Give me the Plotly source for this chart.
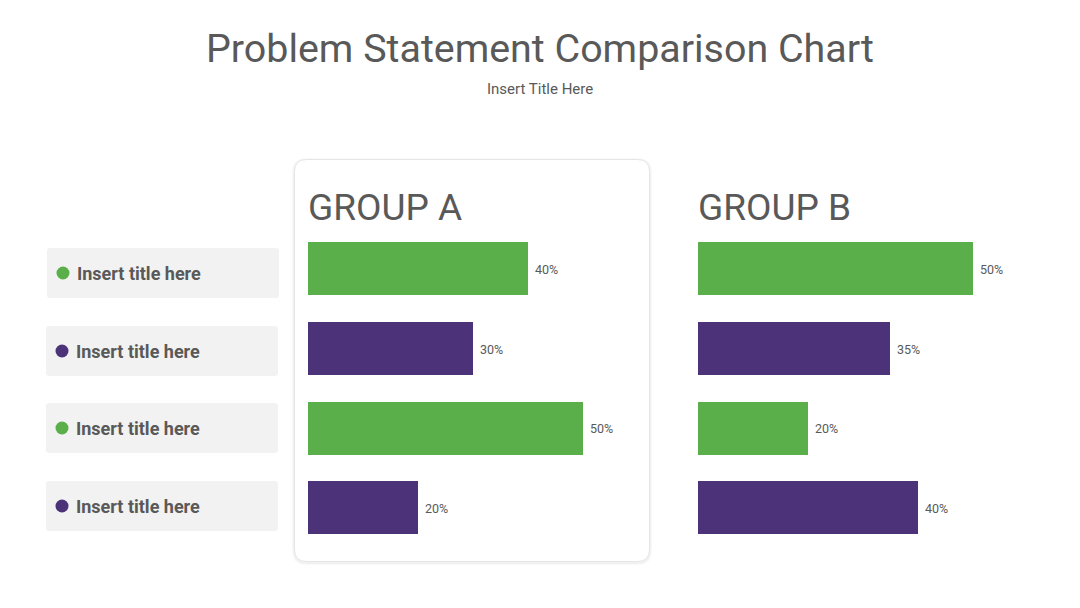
import plotly.graph_objects as go

W, H = 1080, 608

# ---- data ----
row_labels = ["Insert title here", "Insert title here", "Insert title here", "Insert title here"]
group_names = ["GROUP A", "GROUP B"]
group_a = [40, 30, 50, 20]
group_b = [50, 35, 20, 40]
row_colors = ["#5BAF4A", "#4C3279", "#5BAF4A", "#4C3279"]
title = "Problem Statement Comparison Chart"
subtitle = "Insert Title Here"

TXT = "#595959"
FONT = "Roboto"

def px(x):
    return x / W

def py(y):
    return 1 - y / H

rows = list(range(len(row_labels)))

fig = go.Figure()
for i, (vals, ax) in enumerate([(group_a, "x"), (group_b, "x2")]):
    fig.add_trace(go.Bar(
        x=vals, y=rows, orientation="h",
        marker=dict(color=row_colors, line=dict(width=0)),
        width=0.665, xaxis=ax, yaxis="y" if i == 0 else "y2",
        hoverinfo="x", showlegend=False,
    ))
    for r, v in zip(rows, vals):
        fig.add_annotation(
            x=v, y=r, xref=ax, yref="y" if i == 0 else "y2",
            text=f"{v}%", showarrow=False, xanchor="left", xshift=5, yshift=-1,
            font=dict(family=FONT, size=12.5, color=TXT),
        )

# axes
ydom = [py(547.3), py(228.7)]
xa = [px(308), px(308 + 5.49 * 60)]
xb = [px(698), px(698 + 5.49 * 60)]
axis_common = dict(showgrid=False, zeroline=False, showticklabels=False, showline=False, ticks="")
fig.update_layout(
    xaxis=dict(domain=xa, range=[0, 60], **axis_common),
    xaxis2=dict(domain=xb, range=[0, 60], anchor="y2", **axis_common),
    yaxis=dict(domain=ydom, range=[3.5, -0.5], anchor="x", **axis_common),
    yaxis2=dict(domain=ydom, range=[3.5, -0.5], anchor="x2", **axis_common),
)

shapes = []

def rrect(x0, y0, x1, y1, r):
    X0, X1 = px(x0), px(x1)
    Y0, Y1 = py(y0), py(y1)
    rx, ry = r / W, r / H
    return (f"M {X0+rx},{Y0} L {X1-rx},{Y0} Q {X1},{Y0} {X1},{Y0-ry} "
            f"L {X1},{Y1+ry} Q {X1},{Y1} {X1-rx},{Y1} L {X0+rx},{Y1} "
            f"Q {X0},{Y1} {X0},{Y1+ry} L {X0},{Y0-ry} Q {X0},{Y0} {X0+rx},{Y0} Z")

# card around group A with soft shadow
for d, c in [(3, "rgba(0,0,0,0.025)"), (2, "rgba(0,0,0,0.03)")]:
    shapes.append(dict(type="path", xref="paper", yref="paper",
                       path=rrect(294 - d + 1, 159 - d + 2, 650 + d - 1, 562 + d, 14), fillcolor=c,
                       line=dict(width=0), layer="below"))
shapes.append(dict(type="path", xref="paper", yref="paper",
                   path=rrect(294.5, 159.5, 649.5, 561.5, 12), fillcolor="white",
                   line=dict(color="#E6E6E6", width=1), layer="below"))

# row label boxes
box_tops = [248, 326, 403, 481]
for r, top in zip(rows, box_tops):
    x0 = 47 if r == 0 else 46
    shapes.append(dict(type="path", xref="paper", yref="paper",
                       path=rrect(x0, top, x0 + 232, top + 50, 3),
                       fillcolor="#F2F2F2", line=dict(width=0), layer="below"))
    cy = top + 25
    cx = 63 if r == 0 else 62
    shapes.append(dict(type="circle", xref="paper", yref="paper",
                       x0=px(cx - 6.5), x1=px(cx + 6.5), y0=py(cy + 6.5), y1=py(cy - 6.5),
                       fillcolor=row_colors[r], line=dict(width=0)))
    fig.add_annotation(x=px(cx + 12), y=py(cy), xref="paper", yref="paper",
                       text=f"<b>{row_labels[r]}</b>", showarrow=False,
                       xanchor="left", yanchor="middle",
                       font=dict(family=FONT, size=18, color=TXT))

# titles
fig.add_annotation(x=0.5, y=py(48), xref="paper", yref="paper", text=title,
                   showarrow=False, xanchor="center", yanchor="middle",
                   font=dict(family=FONT, size=39.4, color=TXT))
fig.add_annotation(x=0.5, y=py(89), xref="paper", yref="paper", text=subtitle,
                   showarrow=False, xanchor="center", yanchor="middle",
                   font=dict(family=FONT, size=15, color=TXT))
for name, x0 in zip(group_names, [306, 696]):
    fig.add_annotation(x=px(x0), y=py(208), xref="paper", yref="paper", text=name,
                       showarrow=False, xanchor="left", yanchor="middle",
                       font=dict(family=FONT, size=37, color=TXT))

fig.update_layout(
    width=W, height=H, margin=dict(l=0, r=0, t=0, b=0),
    paper_bgcolor="white", plot_bgcolor="rgba(0,0,0,0)",
    shapes=shapes, bargap=0,
)

fig.write_html("out.html")
